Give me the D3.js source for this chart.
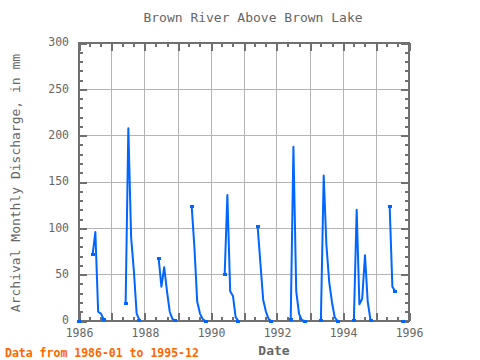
<!DOCTYPE html>
<html>
<head>
<meta charset="utf-8">
<script src="https://cdn.jsdelivr.net/npm/d3@7"></script>
<style>
  html, body { margin: 0; padding: 0; background: #fff; }
  svg { display: block; }
  text { font-family: "DejaVu Sans Mono", monospace; }
</style>
</head>
<body>
<svg id="chart" width="480" height="360"></svg>
<script>
// ---- data (monthly; months absent from the list are missing) ----
const months = [
  "1986-01",
  "1986-06","1986-07","1986-08","1986-09","1986-10",
  "1987-06","1987-07","1987-08","1987-09","1987-10","1987-11",
  "1988-06","1988-07","1988-08","1988-09","1988-10","1988-11","1988-12",
  "1989-06","1989-07","1989-08","1989-09","1989-10","1989-11",
  "1990-06","1990-07","1990-08","1990-09","1990-10","1990-11",
  "1991-06","1991-07","1991-08","1991-09","1991-10","1991-11",
  "1992-06","1992-07","1992-08","1992-09","1992-10","1992-11",
  "1993-05","1993-06","1993-07","1993-08","1993-09","1993-10","1993-11",
  "1994-05","1994-06","1994-07","1994-08","1994-09","1994-10","1994-11",
  "1995-06","1995-07","1995-08",
  "1995-11"
];
const discharge = [
  0,
  72, 96, 10, 8, 2,
  19, 208, 90, 53, 8, 1,
  67, 37, 58, 32, 10, 2, 1,
  124, 80, 21, 8, 2, 0,
  50, 136, 32, 27, 4, 0,
  102, 63, 23, 10, 2, 0,
  2, 188, 32, 8, 1, 0,
  1, 157, 82, 42, 20, 4, 0,
  1, 120, 18, 24, 71, 21, 1,
  124, 37, 32,
  0
];
const xTickYears = [1986, 1988, 1990, 1992, 1994, 1996];
const yTickValues = [0, 50, 100, 150, 200, 250, 300];

const title = "Brown River Above Brown Lake";
const yTitle = "Archival Monthly Discharge, in mm";
const xTitle = "Date";
const footnote = "Data from 1986-01 to 1995-12";

// ---- layout ----
const L = 79, R = 409, T = 43, B = 321;
const svg = d3.select("#chart");
const parse = d3.timeParse("%Y-%m");

const data = months.map((m, i) => ({ date: parse(m), v: discharge[i], idx: (+m.slice(0,4)) * 12 + (+m.slice(5,7)) }));

const x = d3.scaleTime().domain([new Date(1986, 0, 1), new Date(1996, 0, 1)]).range([L, R]);
const y = d3.scaleLinear().domain([0, 300]).range([B, T]);

const gridCol = "#b4b4b4", frameCol = "#707070", textCol = "#666666", lineCol = "#0066ff";

// grid
const g = svg.append("g");
g.selectAll("line.vg").data(d3.range(1987, 1996)).join("line")
  .attr("x1", d => x(new Date(d, 0, 1))).attr("x2", d => x(new Date(d, 0, 1)))
  .attr("y1", T).attr("y2", B).attr("stroke", gridCol).attr("stroke-width", 1)
  .attr("shape-rendering", "crispEdges");
g.selectAll("line.hg").data([50, 100, 150, 200, 250]).join("line")
  .attr("x1", L).attr("x2", R).attr("y1", d => y(d)).attr("y2", d => y(d))
  .attr("stroke", gridCol).attr("stroke-width", 1).attr("shape-rendering", "crispEdges");

// ticks (inward) via d3 axes
const yearDates = d3.range(1986, 1997).map(yr => new Date(yr, 0, 1));
const minorDates = d3.timeMonth.every(4).range(new Date(1986, 0, 1), new Date(1996, 0, 2))
  .filter(d => d.getMonth() !== 0);

function styleAxis(sel) {
  sel.select(".domain").remove();
  sel.selectAll(".tick line").attr("stroke", frameCol).attr("stroke-width", 2)
    .attr("shape-rendering", "crispEdges");
  sel.selectAll(".tick text").remove();
}
svg.append("g").attr("transform", `translate(0,${B})`)
  .call(d3.axisBottom(x).tickValues(yearDates).tickSize(-8)).call(styleAxis);
svg.append("g").attr("transform", `translate(0,${B})`)
  .call(d3.axisBottom(x).tickValues(minorDates).tickSize(-4)).call(styleAxis);
svg.append("g").attr("transform", `translate(0,${T})`)
  .call(d3.axisTop(x).tickValues(yearDates).tickSize(-8)).call(styleAxis);
svg.append("g").attr("transform", `translate(0,${T})`)
  .call(d3.axisTop(x).tickValues(minorDates).tickSize(-4)).call(styleAxis);

const yMinor = d3.range(0, 301, 10).filter(v => v % 50 !== 0);
svg.append("g").attr("transform", `translate(${L},0)`)
  .call(d3.axisLeft(y).tickValues(yTickValues).tickSize(-8)).call(styleAxis);
svg.append("g").attr("transform", `translate(${L},0)`)
  .call(d3.axisLeft(y).tickValues(yMinor).tickSize(-4)).call(styleAxis);
svg.append("g").attr("transform", `translate(${R},0)`)
  .call(d3.axisRight(y).tickValues(yTickValues).tickSize(-8)).call(styleAxis);
svg.append("g").attr("transform", `translate(${R},0)`)
  .call(d3.axisRight(y).tickValues(yMinor).tickSize(-4)).call(styleAxis);

// frame
svg.append("rect").attr("x", L).attr("y", T).attr("width", R - L).attr("height", B - T)
  .attr("fill", "none").attr("stroke", frameCol).attr("stroke-width", 2)
  .attr("shape-rendering", "crispEdges");

// tick labels
const xl = svg.append("g").attr("transform", `translate(0,${B + 5})`)
  .call(d3.axisBottom(x).tickValues(xTickYears.map(yr => new Date(yr, 0, 1)))
    .tickSize(0).tickFormat(d3.timeFormat("%Y")));
xl.select(".domain").remove();
xl.selectAll("text").attr("fill", textCol).style("font-size", "11.5px")
  .style("font-family", "'DejaVu Sans Mono', monospace");

const yl = svg.append("g").attr("transform", `translate(${L - 7},-1)`)
  .call(d3.axisLeft(y).tickValues(yTickValues).tickSize(0));
yl.select(".domain").remove();
yl.selectAll("text").attr("fill", textCol).style("font-size", "11.5px")
  .style("font-family", "'DejaVu Sans Mono', monospace");

// series: split where months are not consecutive
const segments = [];
data.forEach((d, i) => {
  if (i === 0 || d.idx - data[i - 1].idx > 1) segments.push([]);
  segments[segments.length - 1].push(d);
});
const ends = segments.flatMap(s => s.length > 1 ? [s[0], s[s.length - 1]] : [s[0]]);
const line = d3.line().x(d => x(d.date)).y(d => y(d.v));
const series = svg.append("g");
series.selectAll("path").data(segments).join("path")
  .attr("d", line).attr("fill", "none").attr("stroke", lineCol).attr("stroke-width", 2)
  .attr("stroke-linejoin", "round");
series.selectAll("rect").data(ends).join("rect")
  .attr("x", d => x(d.date) - 2).attr("y", d => y(d.v) - 1.5)
  .attr("width", 4).attr("height", 3).attr("fill", lineCol)
  .attr("shape-rendering", "crispEdges");

// titles
svg.append("text").attr("x", 253).attr("y", 22).attr("text-anchor", "middle")
  .attr("fill", textCol).style("font-size", "13px").text(title);
svg.append("text").attr("transform", "translate(20,183) rotate(-90)").attr("text-anchor", "middle")
  .attr("fill", textCol).style("font-size", "13px").text(yTitle);
svg.append("text").attr("x", 274).attr("y", 355).attr("text-anchor", "middle")
  .attr("fill", textCol).style("font-size", "13px").style("font-weight", "bold").text(xTitle);
svg.append("text").attr("x", 5).attr("y", 357)
  .attr("fill", "#ff6600").style("font-size", "11.5px").style("font-weight", "bold").text(footnote);
</script>
</body>
</html>
